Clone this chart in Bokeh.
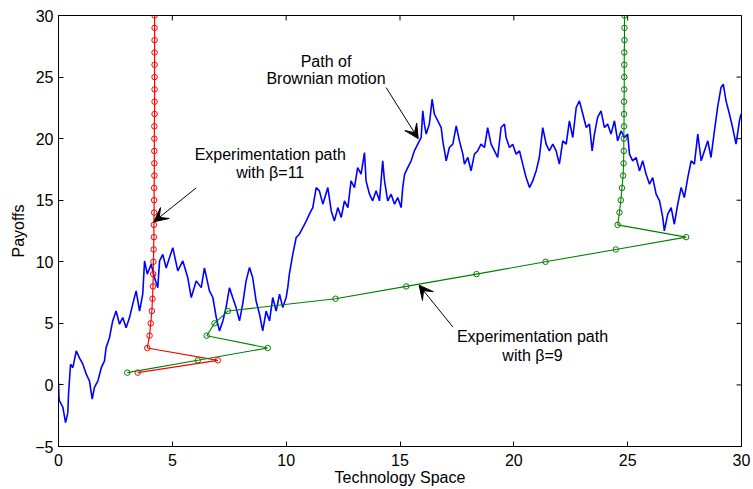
import math
from bokeh.plotting import figure
from bokeh.models import (FixedTicker, CustomJSTickFormatter, Range1d,
                          Arrow, VeeHead, Label)
from bokeh.embed import file_html
from bokeh.resources import INLINE

# ---------------- data ----------------
x_ticks = [0, 5, 10, 15, 20, 25, 30]
y_ticks = [-5, 0, 5, 10, 15, 20, 25, 30]

# Brownian motion path (traced)
bm_x = [0.0, 0.02, 0.04, 0.19, 0.31, 0.41, 0.44, 0.53, 0.63, 0.78, 0.92, 1.07, 1.22, 1.36,
        1.48, 1.58, 1.73, 1.88, 2.02, 2.09, 2.24, 2.38, 2.53, 2.68, 2.82, 2.97, 3.12, 3.26,
        3.41, 3.56, 3.70, 3.78, 3.90, 4.07, 4.22, 4.36, 4.44, 4.58, 4.73, 4.87, 5.02,
        5.24, 5.46, 5.68, 5.83, 6.05, 6.27, 6.41, 6.63, 6.78, 6.93, 7.07, 7.22, 7.36, 7.51,
        7.65, 7.80, 7.95, 8.09, 8.24, 8.39, 8.53, 8.68, 8.83, 8.97, 9.12, 9.27, 9.41, 9.56,
        9.71, 9.85, 10.0,
        10.07, 10.14, 10.29, 10.44, 10.58, 10.73, 10.88, 11.02, 11.17, 11.32, 11.46, 11.61,
        11.83, 11.98, 12.12, 12.27, 12.42, 12.56, 12.71, 12.85, 13.0, 13.14, 13.29, 13.44,
        13.51, 13.66, 13.80, 13.95, 14.10, 14.24, 14.32, 14.46, 14.61, 14.76, 14.90, 15.05,
        15.12,
        15.20, 15.34, 15.49, 15.63, 15.78, 15.93, 16.0, 16.07, 16.15, 16.29, 16.41, 16.51,
        16.66, 16.81, 16.88, 17.03, 17.17, 17.32, 17.47, 17.61, 17.76, 17.83, 17.98, 18.12,
        18.27, 18.41, 18.56, 18.71, 18.85, 19.0, 19.15, 19.29, 19.44, 19.59, 19.66, 19.81,
        19.95, 20.10, 20.25, 20.39, 20.54, 20.69, 20.83, 20.98, 21.12, 21.27, 21.42, 21.56,
        21.71, 21.86, 22.0, 22.15, 22.30,
        22.44, 22.59, 22.74, 22.88, 23.03, 23.18, 23.32, 23.44, 23.54, 23.68, 23.83, 23.98,
        24.12, 24.27, 24.42, 24.56, 24.71, 24.86, 25.0, 25.08, 25.22, 25.37, 25.52, 25.66,
        25.81, 25.96, 26.10, 26.25, 26.40, 26.54, 26.61, 26.76, 26.91, 27.05, 27.20, 27.35,
        27.49, 27.64, 27.79, 27.93, 28.08, 28.23, 28.37, 28.52, 28.66, 28.81, 28.95, 29.10,
        29.20, 29.32, 29.47, 29.61, 29.76, 29.91, 29.98]
bm_y = [0.2, -1.0, -1.3, -1.8, -3.06, -2.25, -0.76, 1.68, 1.4, 2.76, 2.2, 1.68, 0.87, 0.32,
        -1.16, -0.2, 0.33, 1.4, 1.95, 3.03, 3.84, 5.2, 6.0, 4.93, 5.47, 4.65, 5.47, 6.56,
        7.64, 6.0, 7.37, 10.07, 9.0, 9.8, 8.7, 7.9, 10.07, 10.6, 9.5, 10.3, 11.15,
        9.26, 10.07, 8.7, 7.1, 8.45, 7.9, 9.5, 7.64, 7.1, 5.47, 4.39, 5.2, 6.28, 7.9,
        7.1, 6.28, 5.2, 6.56, 8.45, 9.53, 8.7, 6.82, 5.74, 4.39, 6.0, 5.2, 7.1, 6.0,
        7.37, 6.28, 7.1,
        7.9, 9.0, 10.6, 11.97, 12.24, 12.78, 13.3, 13.87, 14.4, 16.03, 15.76, 14.68,
        16.03, 14.13, 13.32, 14.4, 13.6, 14.95, 14.4, 16.57, 16.03, 17.65, 17.12, 18.87,
        16.57, 15.49, 14.95, 15.76, 14.95, 18.2, 16.57, 14.95, 15.49, 14.68, 15.22, 14.4,
        16.03,
        17.1, 17.65, 18.2, 19.0, 19.55, 20.1, 22.26, 21.18, 20.37, 21.18, 23.2, 22.0,
        21.45, 20.9, 19.8, 18.2, 19.28, 19.55, 21.04, 19.82, 18.74, 17.93, 18.47, 17.38,
        18.74, 19.0, 19.55, 19.28, 20.9, 19.55, 19.0, 18.47, 20.9, 21.18, 20.09, 19.28,
        19.55, 18.74, 19.0, 17.93, 16.84, 16.03, 16.57, 17.38, 18.47, 20.9, 19.55, 19.0,
        19.55, 19.0, 17.93, 19.82, 19.55,
        21.45, 20.09, 22.53, 23.07, 22.0, 20.9, 21.18, 19.0, 20.37, 21.72, 22.26, 20.9,
        21.18, 20.37, 21.45, 19.82, 20.63, 20.09, 20.37, 18.74, 18.2, 18.47, 17.38, 18.2,
        17.1, 16.3, 16.84, 15.49, 14.95, 13.6, 12.51, 13.87, 14.4, 13.05, 14.68, 16.03,
        15.22, 16.84, 18.2, 17.93, 20.37, 18.2, 19.0, 19.82, 18.47, 20.63, 22.53, 24.15,
        24.43, 23.07, 22.0, 20.9, 19.55, 21.45, 22.0]

# Experimentation path with beta = 11 (red)
red_x = [3.48, 7.0, 3.9, 4.0, 4.05, 4.10, 4.13, 4.15, 4.16, 4.17, 4.18, 4.19, 4.19, 4.20,
         4.20, 4.20, 4.21, 4.21, 4.21, 4.21, 4.21, 4.22, 4.22, 4.22, 4.22, 4.22, 4.22, 4.22,
         4.22, 4.22]
red_y = [1, 2, 3, 4, 5, 6, 7, 8, 9, 10, 11, 12, 13, 14, 15, 16, 17, 18, 19, 20, 21, 22,
         23, 24, 25, 26, 27, 28, 29, 30]

# Experimentation path with beta = 9 (green)
green_x = [3.02, 6.12, 9.19, 6.51, 6.85, 7.44, 12.17, 15.27, 18.36, 21.39, 24.48, 27.57,
           24.56, 24.64, 24.70, 24.75, 24.80, 24.82, 24.83, 24.83, 24.84, 24.84, 24.84,
           24.85, 24.85, 24.85, 24.85, 24.86, 24.86, 24.86]
green_y = [1, 2, 3, 4, 5, 6, 7, 8, 9, 10, 11, 12, 13, 14, 15, 16, 17, 18, 19, 20, 21, 22,
           23, 24, 25, 26, 27, 28, 29, 30]

# annotations: text lines, [centre x, line-1 y, line-2 y], arrow [x0, y0, x1, y1]
ann_bm = ["Path of", "Brownian motion"]
ann_bm_pos = [11.75, 26.3, 24.85]
ann_bm_arrow = [14.39, 24.15, 15.80, 20.0]
ann_r = ["Experimentation path", "with \u03b2=11"]
ann_r_pos = [9.3, 18.74, 17.25]
ann_r_arrow = [6.05, 16.0, 4.19, 13.25]
ann_g = ["Experimentation path", "with \u03b2=9"]
ann_g_pos = [20.82, 3.9, 2.4]
ann_g_arrow = [17.32, 4.71, 15.84, 8.1]

FONT = "Liberation Sans"
FS = "16px"
TXT = "#000000"

p = figure(width=753, height=489, output_backend="svg", toolbar_location=None,
           x_range=Range1d(0, 30), y_range=Range1d(-5, 30),
           min_border_left=58, min_border_right=12, min_border_top=15, min_border_bottom=43)
p.grid.visible = False
p.outline_line_color = "black"
p.outline_line_width = 1
p.background_fill_color = "white"
p.border_fill_color = "white"

fmt = CustomJSTickFormatter(code="return tick < 0 ? '\u2212' + Math.abs(tick) : String(tick);")

for ax in (p.xaxis[0], p.yaxis[0]):
    ax.axis_line_color = "black"
    ax.major_tick_in = 5
    ax.major_tick_out = 0
    ax.minor_tick_in = 0
    ax.minor_tick_out = 0
    ax.major_tick_line_color = "black"
    ax.major_label_text_font = FONT
    ax.major_label_text_font_size = FS
    ax.major_label_text_color = TXT
    ax.axis_label_text_font = FONT
    ax.axis_label_text_font_size = FS
    ax.axis_label_text_font_style = "normal"
    ax.axis_label_text_color = TXT
    ax.formatter = fmt

p.xaxis.ticker = FixedTicker(ticks=x_ticks)
p.yaxis.ticker = FixedTicker(ticks=y_ticks)
p.xaxis.axis_label = "Technology Space"
p.yaxis.axis_label = "Payoffs"
p.xaxis.major_label_standoff = 7
p.xaxis.axis_label_standoff = 0
p.yaxis.major_label_standoff = 5
p.yaxis.axis_label_standoff = 5

# inward ticks on the top and right edges of the box (clipped to the frame)
p.scatter(x_ticks, [30] * len(x_ticks), marker="dash", size=10, angle=math.pi / 2,
          line_color="black", line_width=1)
p.scatter([30] * len(y_ticks), y_ticks, marker="dash", size=10,
          line_color="black", line_width=1)

# Brownian path
p.line(bm_x, bm_y, line_color="#0000ff", line_width=1.6)

# red path
p.line(red_x, red_y, line_color="#ff0000", line_width=1.2)
p.scatter(red_x, red_y, marker="circle", size=5.5, fill_color=None,
          line_color="#ff0000", line_width=1)

# green path
p.line(green_x, green_y, line_color="#008000", line_width=1.1)
p.scatter(green_x, green_y, marker="circle", size=5.5, fill_color=None,
          line_color="#008000", line_width=1)


def annotate(lines, pos, arr):
    for txt, yy in zip(lines, pos[1:]):
        p.add_layout(Label(x=pos[0], y=yy, text=txt, text_align="center",
                           text_baseline="middle", text_font=FONT, text_font_size=FS,
                           text_color=TXT))
    p.add_layout(Arrow(x_start=arr[0], y_start=arr[1], x_end=arr[2], y_end=arr[3],
                       line_color="black", line_width=1,
                       end=VeeHead(size=14, fill_color="black", line_color="black")))


annotate(ann_bm, ann_bm_pos, ann_bm_arrow)
annotate(ann_r, ann_r_pos, ann_r_arrow)
annotate(ann_g, ann_g_pos, ann_g_arrow)

open("out.html", "w").write(file_html(p, INLINE))
